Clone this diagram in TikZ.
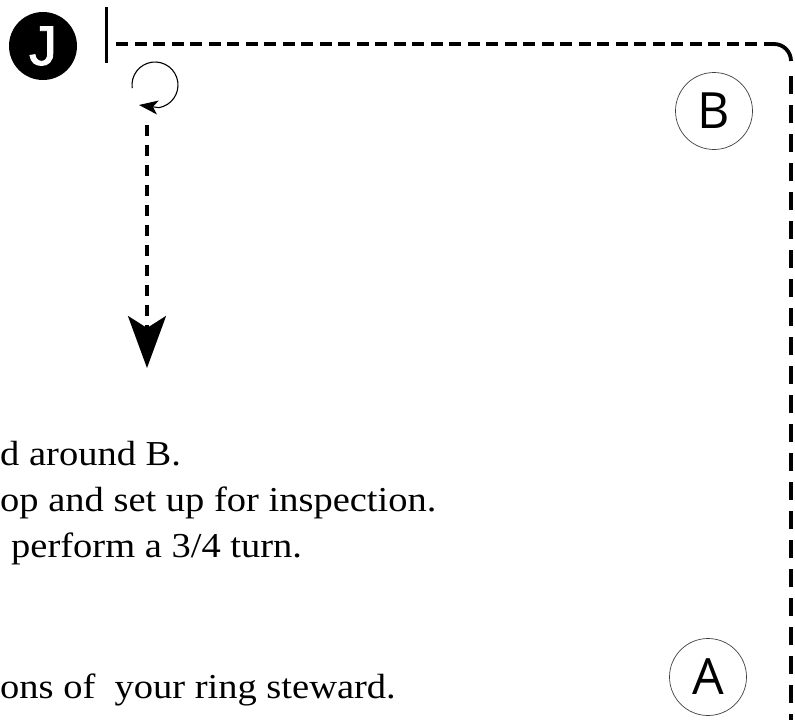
\documentclass[tikz,border=0pt]{standalone}
\usepackage{fontspec}
\setmainfont{Liberation Serif}
\newfontfamily\labelfont{Open Sans}
\newfontfamily\riderfont[FakeBold=1.5]{Liberation Sans}
\usetikzlibrary{arrows.meta}
\begin{document}
\begin{tikzpicture}[x=1pt,y=-1pt,
  marker/.style={circle,draw=black!75,line width=0.7pt,minimum size=77pt,inner sep=0pt,font=\labelfont\fontsize{50}{50}\selectfont},
  rider/.style={circle,fill=black,minimum size=68pt,inner sep=0pt,text=white,font=\riderfont\fontsize{56}{56}\selectfont},
  route/.style={line width=3.8pt,dash pattern=on 12pt off 6.5pt},
  routev/.style={line width=3.8pt,dash pattern=on 18pt off 11pt},
  body/.style={anchor=base west,inner sep=0pt,xscale=1.1,font=\fontsize{35}{40}\selectfont}]
\useasboundingbox (0,0) rectangle (795,720);
\clip (0,0) rectangle (795,720);
\node[rider] (J) at (43,46) {J};
\node[marker] (B) at (714,111) {B};
\node[marker] (A) at (708,677) {A};
\coordinate (bartop) at (106,7);
\coordinate (barbot) at (106,63);
\draw[line width=3pt] (bartop) -- (barbot);
\coordinate (start) at (116,44);
\coordinate (cornerh) at (774,44);
\coordinate (endv) at (791,725);
\draw[route] (start) -- (cornerh);
\draw[line width=3.8pt] (cornerh) arc[start angle=-90,end angle=0,radius=17];
\draw[routev] (791,76) -- (endv);
% turn marker
\coordinate (turntip) at (139,105);
\draw[line width=1.1pt] (155,85) ++(172:23) arc[start angle=172,end angle=440,radius=23] coordinate (turnend);
\draw[line width=1.1pt,-{Stealth[length=19pt,width=14pt,inset=5pt]}] (turnend) -- (turntip);
% dashed arrow down
\coordinate (arrtop) at (147,125);
\coordinate (arrtip) at (147,368);
\draw[line width=3.5pt,dash pattern=on 11pt off 9pt,-{Stealth[length=52pt,width=38pt,inset=12pt]}] (arrtop) -- (arrtip);
% text fragments
\node[body] (t1) at (0,465) {d around B.};
\node[body] (t2) at (0,511) {op and set up for inspection.};
\node[body] (t3) at (11,557) {perform a 3/4 turn.};
\node[body] (t4) at (0,698) {ons of\ \ your ring steward.};
\end{tikzpicture}
\end{document}
